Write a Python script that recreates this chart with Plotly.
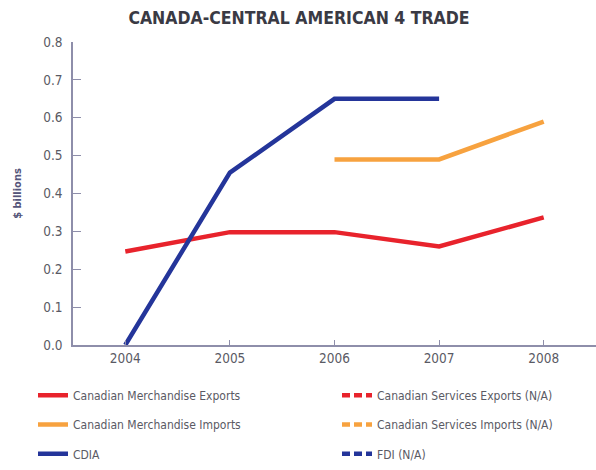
import plotly.graph_objects as go

years = [2004, 2005, 2006, 2007, 2008]
merch_exports = [0.247, 0.298, 0.298, 0.260, 0.337]
merch_imports = [None, None, 0.49, 0.49, 0.59]
cdia = [0.0, 0.455, 0.65, 0.65, None]
y_ticks = [0.0, 0.1, 0.2, 0.3, 0.4, 0.5, 0.6, 0.7, 0.8]
y_tick_labels = ["0.0", "0.1", "0.2", "0.3", "0.4", "0.5", "0.6", "0.7", "0.8"]

RED = "#e8232c"
ORANGE = "#f7a23f"
BLUE = "#24359a"
AXIS = "#8e8eaa"
TEXT = "#5a5a64"
FONT = "DejaVu Sans Condensed, sans-serif"

fig = go.Figure()

def add(name, y, color, dash, legend, group):
    fig.add_trace(go.Scatter(
        x=years if y is not None else [None],
        y=y if y is not None else [None],
        mode="lines", name=name,
        line=dict(color=color, width=4.5, dash=dash),
        legend=legend, legendgroup=group,
        connectgaps=False, hoverinfo="skip",
    ))

add("Canadian Merchandise Exports", merch_exports, RED, "solid", "legend", "a")
add("Canadian Merchandise Imports", merch_imports, ORANGE, "solid", "legend", "b")
add("CDIA", cdia, BLUE, "solid", "legend", "c")
add("Canadian Services Exports (N/A)", None, RED, "8px,4px", "legend2", "d")
add("Canadian Services Imports (N/A)", None, ORANGE, "8px,4px", "legend2", "e")
add("FDI (N/A)", None, BLUE, "8px,4px", "legend2", "f")

leg_common = dict(
    font=dict(family=FONT, size=12, color=TEXT),
    bgcolor="rgba(0,0,0,0)", tracegroupgap=10.3,
    xanchor="left", yanchor="top", orientation="v",
)

fig.update_layout(
    width=596, height=470,
    margin=dict(l=73, r=0, t=42, b=125, autoexpand=False),
    paper_bgcolor="white", plot_bgcolor="white",
    showlegend=True,
    title=dict(text="<b>CANADA-CENTRAL AMERICAN 4 TRADE</b>",
               font=dict(family=FONT, size=17.5, color="#3a3a44"),
               x=299/596, xanchor="center", y=1-18/470, yanchor="middle"),
    xaxis=dict(range=[2003.5, 2008.5], tickvals=years, ticktext=[str(v) for v in years],
               showgrid=False, zeroline=False, showline=True, linecolor=AXIS, linewidth=1.5,
               ticks="inside", ticklen=5, tickcolor=AXIS, automargin=False,
               tickfont=dict(family=FONT, size=13.5, color=TEXT)),
    yaxis=dict(range=[0, 0.8], tickvals=y_ticks, ticktext=y_tick_labels,
               showgrid=False, zeroline=False, showline=True, linecolor=AXIS, linewidth=1.5,
               ticks="inside", ticklen=8, tickcolor=AXIS, automargin=False,
               ticklabelstandoff=6,
               tickfont=dict(family=FONT, size=13.5, color=TEXT),
               title=dict(text="<b>$ billions</b>", font=dict(family=FONT, size=11, color="#55557a"),
                          standoff=19)),
    legend=dict(x=(33-73)/523, y=-0.118, **leg_common),
    legend2=dict(x=(337-73)/523, y=-0.118, **leg_common),
)

fig.write_html("out.html", config={"displayModeBar": False},
               post_script="document.body.style.margin='0';document.body.style.padding='0';")
